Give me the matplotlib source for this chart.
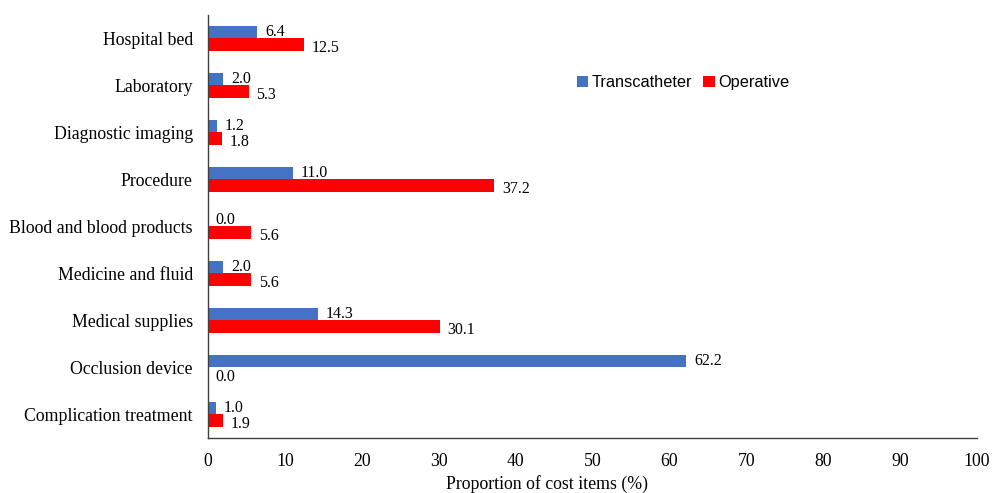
import matplotlib
matplotlib.use("Agg")
import matplotlib.pyplot as plt
import numpy as np

categories = ["Hospital bed", "Laboratory", "Diagnostic imaging", "Procedure",
              "Blood and blood products", "Medicine and fluid", "Medical supplies",
              "Occlusion device", "Complication treatment"]
transcatheter = [6.4, 2.0, 1.2, 11.0, 0.0, 2.0, 14.3, 62.2, 1.0]
operative = [12.5, 5.3, 1.8, 37.2, 5.6, 5.6, 30.1, 0.0, 1.9]
xticks = list(range(0, 101, 10))

plt.rcParams['font.family'] = ['Liberation Serif', 'DejaVu Serif']

fig = plt.figure(figsize=(9.93, 4.93), dpi=100)
ax = fig.add_axes([0.2095, 0.1116, 0.7745, 0.858])

y = np.arange(len(categories))
h = 0.27
blue = "#4472C4"
red = "#FF0000"
ax.barh(y - h / 2, transcatheter, height=h, color=blue, label="Transcatheter")
ax.barh(y + h / 2, operative, height=h, color=red, label="Operative")

for yi, v in zip(y, transcatheter):
    ax.annotate(f"{v:.1f}", (v, yi - h / 2), xytext=(5.5, 0), textcoords="offset points",
                va="center", ha="left", fontsize=11.5)
for yi, v in zip(y, operative):
    ax.annotate(f"{v:.1f}", (v, yi + h / 2), xytext=(5.5, -2), textcoords="offset points",
                va="center", ha="left", fontsize=11.5)

ax.set_ylim(len(categories) - 0.5, -0.5)
ax.set_xlim(0, 100)
ax.set_xticks(xticks)
ax.set_yticks(y)
ax.set_yticklabels(categories, fontsize=12.8)
ax.tick_params(axis="y", length=0, pad=11)
ax.tick_params(axis="x", length=0, labelsize=12.8, pad=11)
ax.set_xlabel("Proportion of cost items (%)", fontsize=12.8, va="center")
ax.xaxis.set_label_coords(0.441, -0.109)

for s in ["top", "right"]:
    ax.spines[s].set_visible(False)
for s in ["left", "bottom"]:
    ax.spines[s].set_color("#404040")
    ax.spines[s].set_linewidth(1.0)

ax.legend(loc="center left", bbox_to_anchor=(0.46, 0.84), ncol=2, frameon=False,
          prop={"family": ["Liberation Sans", "DejaVu Sans"], "size": 11.8},
          handlelength=0.7, handleheight=0.7, handletextpad=0.2, columnspacing=0.7)

fig.savefig("out.png", dpi=100)
